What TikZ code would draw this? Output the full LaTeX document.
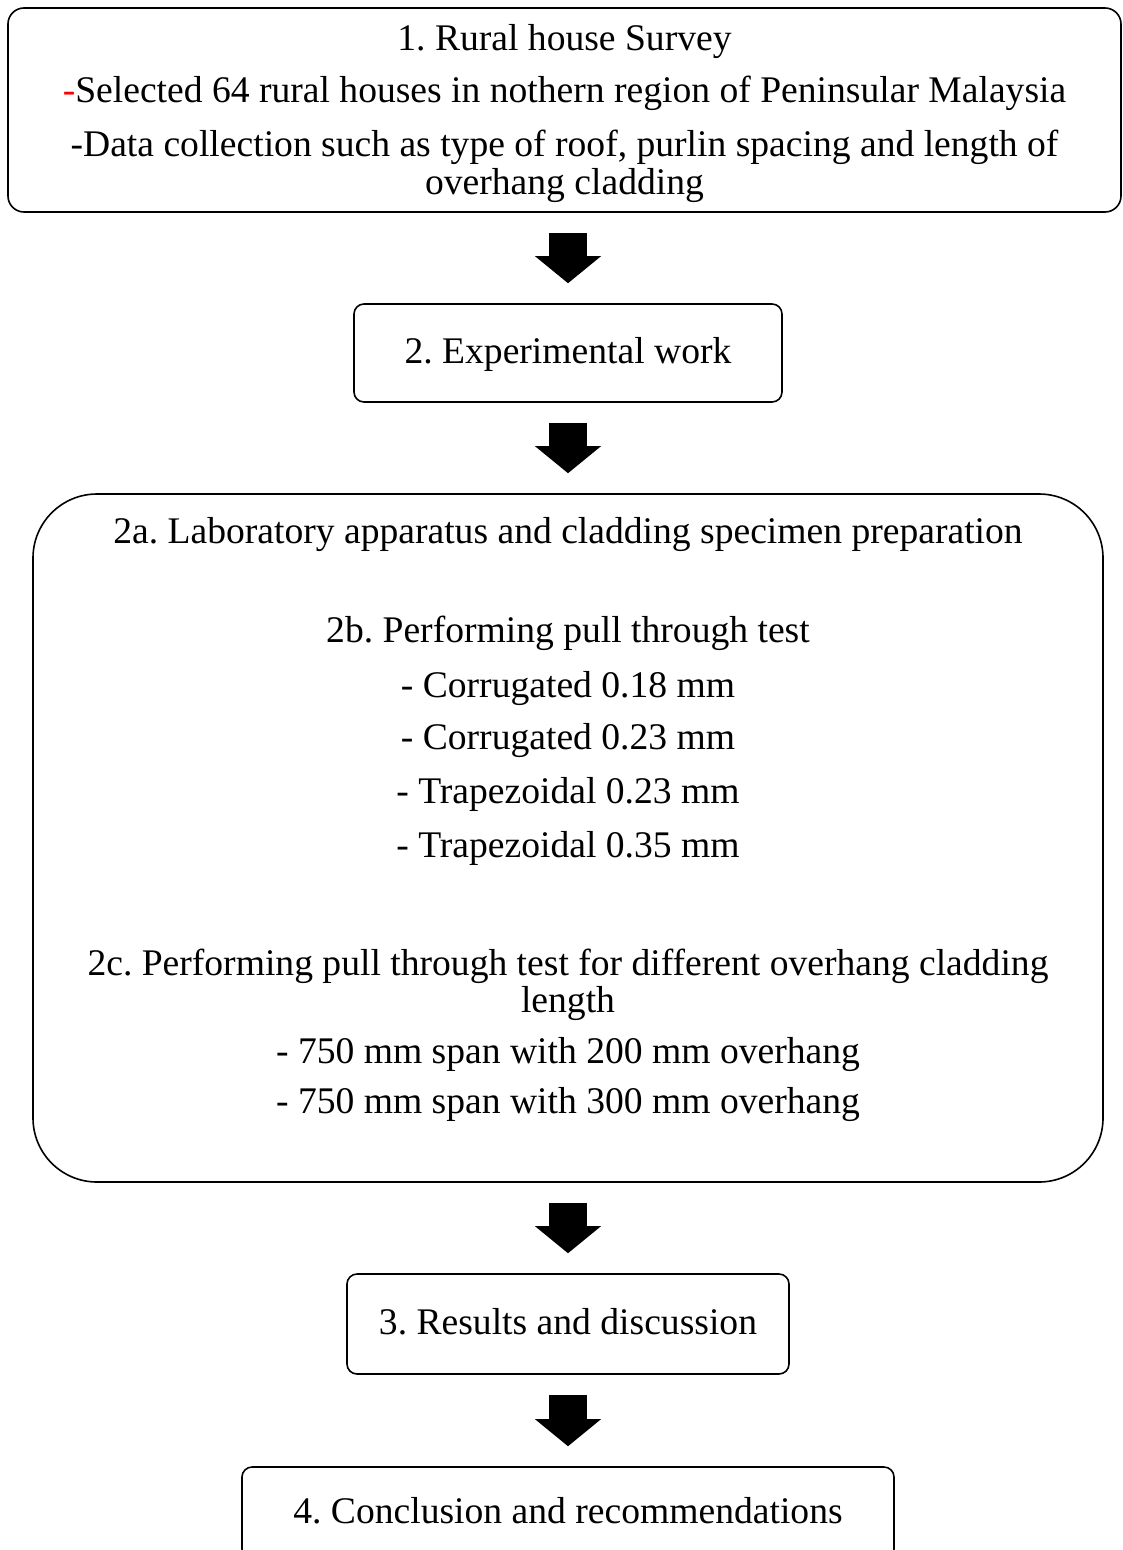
\documentclass[tikz,border=0pt]{standalone}
\usepackage{xcolor}
\usepackage{fontspec}
\setmainfont{Liberation Serif}
\usetikzlibrary{arrows.meta, positioning}
\frenchspacing

\begin{document}
\begin{tikzpicture}[x=1pt, y=1pt, font=\fontsize{37.6}{37}\selectfont]
    % Define styles
    \tikzstyle{stage}=[draw=black, line width=1.6pt, rounded corners=10pt, inner sep=0pt, text height=28pt, text depth=8pt]
    \tikzstyle{textline}=[anchor=base, inner sep=0pt]
    \tikzstyle{flow}=[line width=38pt, shorten <=20pt, shorten >=20pt, -{Triangle[width=66pt, length=27pt, line width=0pt]}]

    \useasboundingbox (0,0) rectangle (1122,-1550);

    % Draw the stage boxes
    \node[stage, rounded corners=16pt, minimum width=1113pt, minimum height=204pt] (survey) at (564.5,-110) {};
    \node[stage, minimum width=428pt, minimum height=98pt] (expt) at (568,-353) {2. Experimental work};
    \node[stage, rounded corners=64pt, minimum width=1070pt, minimum height=688pt] (lab) at (568,-838) {};
    \node[stage, minimum width=442pt, minimum height=100pt] (results) at (568,-1324) {3. Results and discussion};
    \node[stage, minimum width=652pt, minimum height=92pt] (concl) at (568,-1513) {4. Conclusion and recommendations};

    % Text lines of the survey box
    \foreach \y/\txt [count=\i] in {50/{1. Rural house Survey},
            102/{\textcolor{red}{-}Selected 64 rural houses in nothern region of Peninsular Malaysia},
            156/{-Data collection such as type of roof, purlin spacing and length of},
            194/{overhang cladding}}
        \node[textline] (survey-\i) at (564.5,-\y) {\txt};

    % Text lines of the laboratory box
    \foreach \y/\txt [count=\i] in {543/{2a. Laboratory apparatus and cladding specimen preparation},
            642/{2b. Performing pull through test},
            697/{- Corrugated 0.18 mm},
            749/{- Corrugated 0.23 mm},
            803/{- Trapezoidal 0.23 mm},
            857/{- Trapezoidal 0.35 mm},
            975/{2c. Performing pull through test for different overhang cladding},
            1012/{length},
            1063/{- 750 mm span with 200 mm overhang},
            1113/{- 750 mm span with 300 mm overhang}}
        \node[textline] (lab-\i) at (568,-\y) {\txt};

    % Draw the block arrows
    \draw[flow] (survey.south -| expt.north) -- (expt.north);
    \draw[flow] (expt.south) -- (lab.north);
    \draw[flow] (lab.south) -- (results.north);
    \draw[flow] (results.south) -- (concl.north);

\end{tikzpicture}
\end{document}
